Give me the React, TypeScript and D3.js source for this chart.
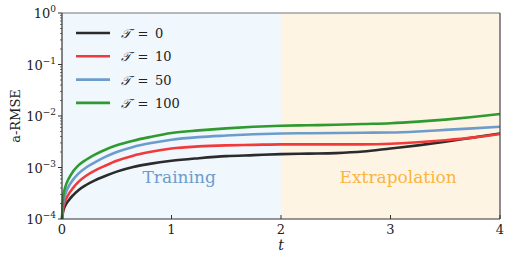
import { useMemo } from 'react';
import * as d3 from 'd3';

// time grid (t) and log10 of a-RMSE for each horizon
const times = [0, 0.01, 0.03, 0.06, 0.1, 0.15, 0.22, 0.3, 0.4, 0.5, 0.65, 0.8, 1.0, 1.25, 1.5, 1.75, 2.0, 2.25, 2.5, 2.75, 3.0, 3.25, 3.5, 3.75, 4.0];
const logRmseT0 = [-4, -3.86, -3.74, -3.64, -3.54, -3.44, -3.34, -3.25, -3.16, -3.08, -2.99, -2.93, -2.87, -2.82, -2.78, -2.76, -2.74, -2.73, -2.72, -2.69, -2.63, -2.57, -2.5, -2.42, -2.34];
const logRmseT10 = [-4, -3.8, -3.65, -3.52, -3.4, -3.28, -3.16, -3.06, -2.96, -2.87, -2.77, -2.7, -2.63, -2.59, -2.57, -2.56, -2.55, -2.55, -2.55, -2.55, -2.54, -2.51, -2.47, -2.42, -2.35];
const logRmseT50 = [-4, -3.7, -3.52, -3.37, -3.24, -3.12, -3.0, -2.9, -2.79, -2.7, -2.6, -2.53, -2.46, -2.41, -2.38, -2.355, -2.34, -2.335, -2.33, -2.325, -2.32, -2.3, -2.27, -2.24, -2.21];
const logRmseT100 = [-4, -3.58, -3.38, -3.22, -3.08, -2.96, -2.85, -2.75, -2.65, -2.57, -2.48, -2.41, -2.33, -2.28, -2.24, -2.21, -2.19, -2.18, -2.17, -2.155, -2.14, -2.11, -2.07, -2.02, -1.96];

const seriesNames = ['0', '10', '50', '100'];
const seriesColors = ['#2b2b2b', '#f23a3a', '#6c9ccc', '#2f9a2f'];
const xTicks = [0, 1, 2, 3, 4];
const yExps = [0, -1, -2, -3, -4];

const W = 515;
const H = 258;
const margin = { top: 13, right: 15, bottom: 39, left: 62 };
const serif = "'DejaVu Serif'";

export default function App() {
  const innerW = W - margin.left - margin.right;
  const innerH = H - margin.top - margin.bottom;

  const x = useMemo(() => d3.scaleLinear().domain([0, 4]).range([0, innerW]), [innerW]);
  const y = useMemo(() => d3.scaleLog().domain([1e-4, 1]).range([innerH, 0]), [innerH]);

  const allSeries = [logRmseT0, logRmseT10, logRmseT50, logRmseT100];
  const line = d3.line<[number, number]>()
    .x(d => x(d[0]))
    .y(d => y(d[1]))
    .curve(d3.curveMonotoneX);

  const minorTicks: number[] = [];
  for (let e = -4; e < 0; e++) {
    for (let m = 2; m <= 9; m++) minorTicks.push(m * Math.pow(10, e));
  }

  return (
    <svg width={W} height={H} fontFamily={serif} style={{ position: 'absolute', left: 0, top: 0, background: '#fff', fontFamily: serif }}>
      <g transform={`translate(${margin.left},${margin.top})`}>
        {/* regions */}
        <rect x={0} y={0} width={x(2)} height={innerH} fill="#f0f7fd" />
        <rect x={x(2)} y={0} width={innerW - x(2)} height={innerH} fill="#fef4e3" />

        <text x={x(1.07)} y={170} fontSize={17} fill="#6c9ccc" textAnchor="middle">Training</text>
        <text x={x(3.07)} y={170} fontSize={17} fill="#fbb43c" textAnchor="middle">Extrapolation</text>

        {allSeries.map((vals, i) => (
          <path
            key={i}
            d={line(times.map((t, k) => [t, Math.pow(10, vals[k])] as [number, number])) || ''}
            fill="none"
            stroke={seriesColors[i]}
            strokeWidth={2.6}
          />
        ))}

        {/* frame */}
        <line x1={0} y1={0} x2={innerW} y2={0} stroke="#777" strokeWidth={1.2} />
        <line x1={innerW} y1={0} x2={innerW} y2={innerH} stroke="#444" strokeWidth={1.2} />
        <line x1={0} y1={0} x2={0} y2={innerH} stroke="#333" strokeWidth={1.2} />
        <line x1={0} y1={innerH} x2={innerW} y2={innerH} stroke="#333" strokeWidth={1.2} />

        {/* y ticks */}
        {minorTicks.map((v, i) => (
          <line key={i} x1={-2} x2={0} y1={y(v)} y2={y(v)} stroke="#333" strokeWidth={0.7} />
        ))}
        {yExps.map(e => (
          <g key={e} transform={`translate(0,${y(Math.pow(10, e))})`}>
            <line x1={-4} x2={0} stroke="#333" strokeWidth={1} />
            <text x={-6} y={5} fontSize={13} fill="#222" textAnchor="end">
              10<tspan dy={-6} fontSize={9}>{e === 0 ? '0' : `\u2212${-e}`}</tspan>
            </text>
          </g>
        ))}

        {/* x ticks */}
        {xTicks.map(t => (
          <g key={t} transform={`translate(${x(t)},${innerH})`}>
            <line y1={-4} y2={0} stroke="#333" strokeWidth={1} />
            <text y={15} fontSize={13} fill="#222" textAnchor="middle">{t}</text>
          </g>
        ))}
        <text x={x(2)} y={innerH + 31} fontSize={14} fontStyle="italic" textAnchor="middle" fill="#222">t</text>

        {/* legend */}
        {seriesNames.map((n, i) => (
          <g key={n} transform={`translate(14,${20 + i * 23.3})`}>
            <line x1={0} x2={34} stroke={seriesColors[i]} strokeWidth={2.6} />
            <text x={45} y={5} fontSize={13} fill="#222">
              <tspan fontStyle="italic">𝒯</tspan>{'\u2002=\u2002'}{n}
            </text>
          </g>
        ))}
      </g>
      <text transform={`translate(20,${margin.top + innerH / 2}) rotate(-90)`} fontSize={13} textAnchor="middle" fill="#222">a-RMSE</text>
    </svg>
  );
}
